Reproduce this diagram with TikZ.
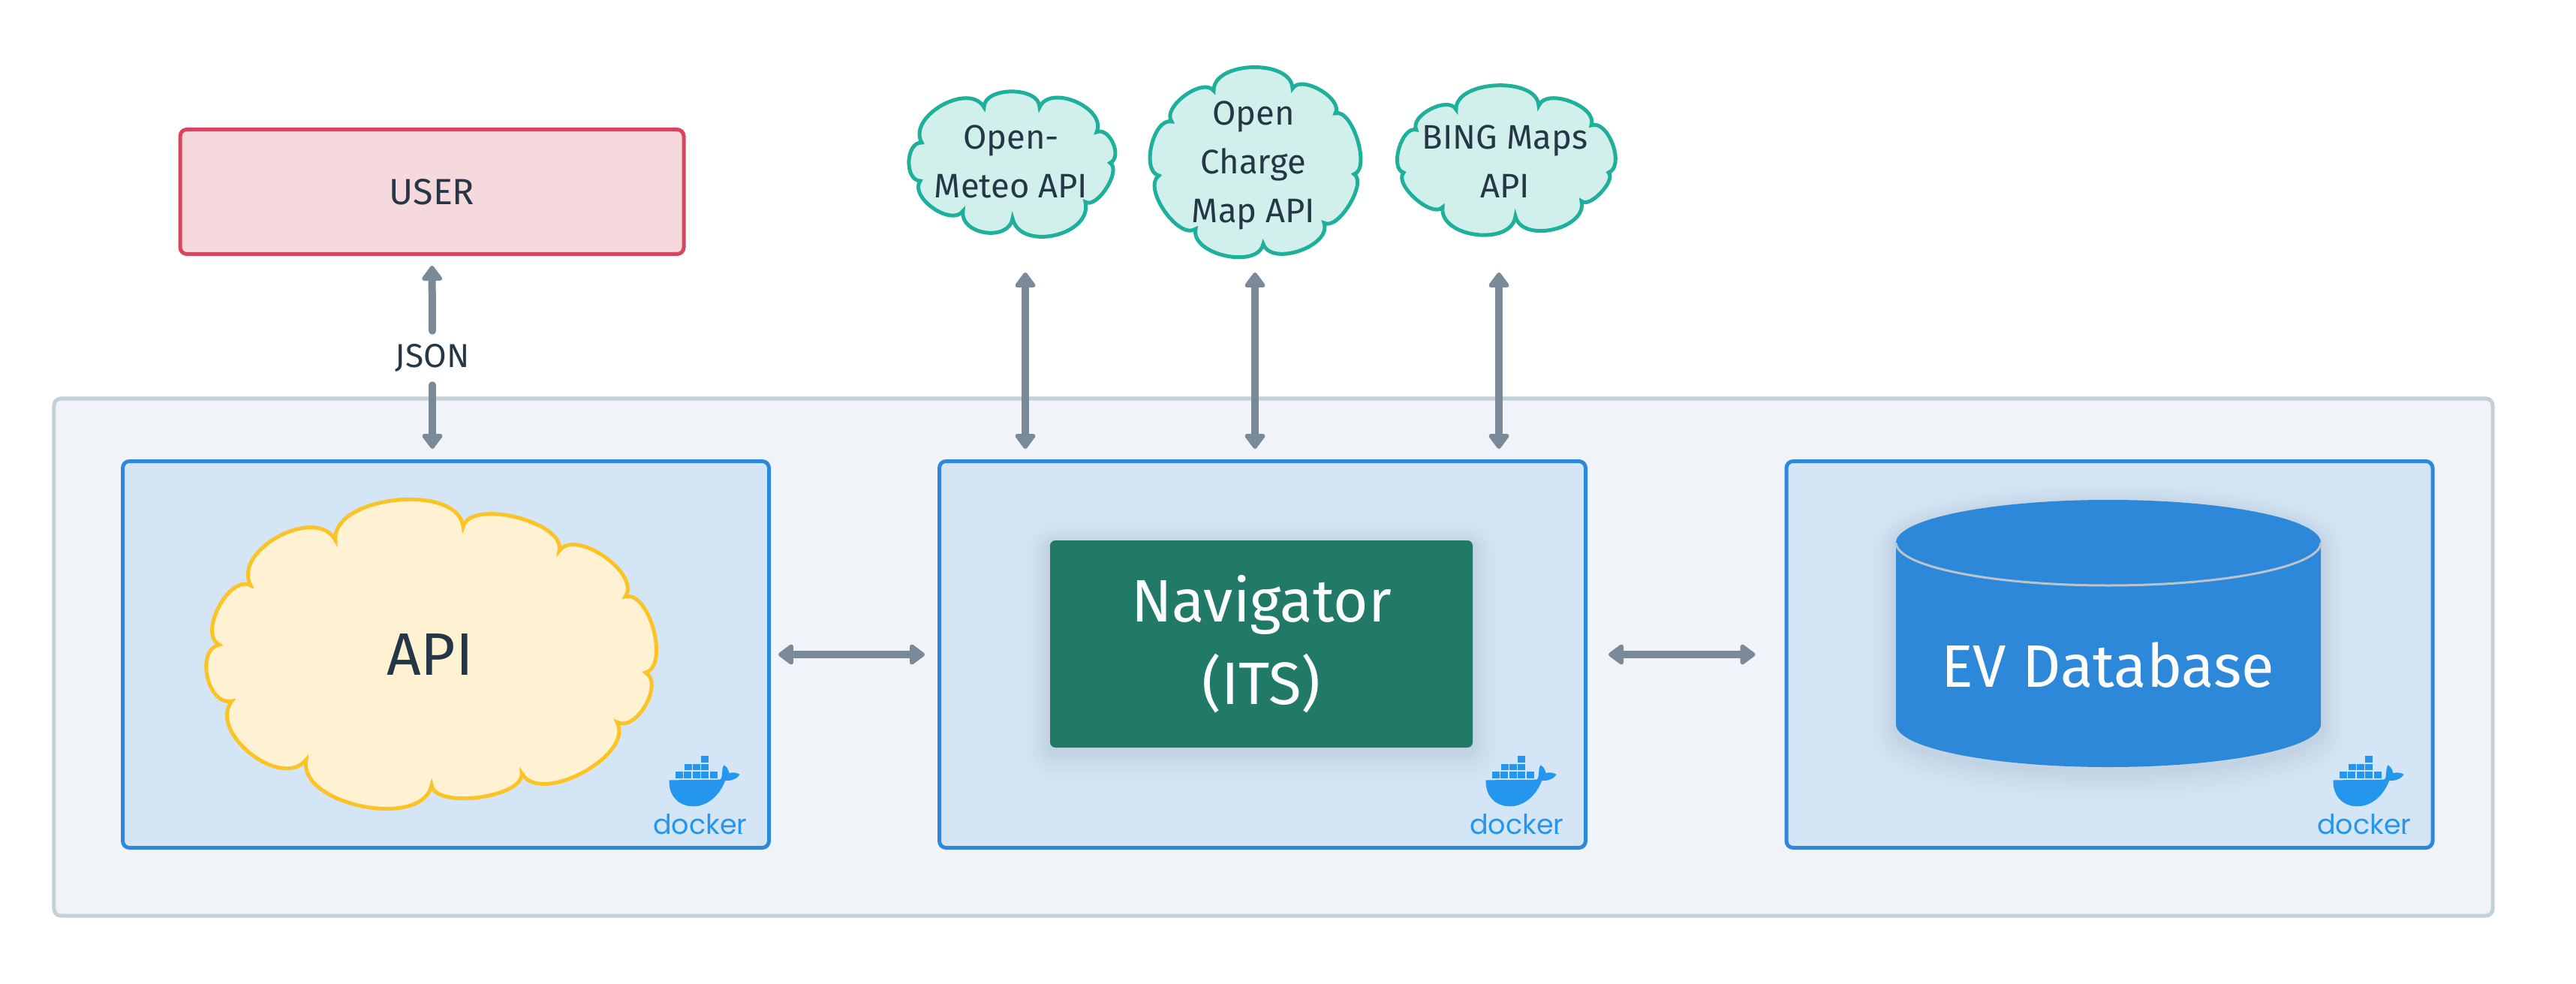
\documentclass[tikz,border=0pt]{standalone}
\usepackage{fontspec}
\setmainfont{Fira Sans}
\newfontfamily\dockerfont{Poppins}
\usetikzlibrary{arrows.meta,calc}

\definecolor{inkdark}{HTML}{253746}
\definecolor{arrowgray}{HTML}{7B8A99}
\definecolor{hostfill}{HTML}{F0F4F8}
\definecolor{hostline}{HTML}{C3D0DA}
\definecolor{boxfill}{HTML}{D4E5F5}
\definecolor{boxline}{HTML}{2E88DA}
\definecolor{userfill}{HTML}{F6D9DD}
\definecolor{userline}{HTML}{D7465F}
\definecolor{apifill}{HTML}{FEF2D3}
\definecolor{apiline}{HTML}{FCC326}
\definecolor{extfill}{HTML}{D1F0EC}
\definecolor{extline}{HTML}{1FB09C}
\definecolor{navgreen}{HTML}{217A68}
\definecolor{dockerblue}{HTML}{2496ED}

\tikzset{
    softshadow/.style={
        preaction={draw=black,opacity=.008,line width=.7cm,transform canvas={yshift=-.1cm}},
        preaction={draw=black,opacity=.008,line width=.58cm,transform canvas={yshift=-.1cm}},
        preaction={draw=black,opacity=.01,line width=.46cm,transform canvas={yshift=-.09cm}},
        preaction={draw=black,opacity=.012,line width=.34cm,transform canvas={yshift=-.08cm}},
        preaction={draw=black,opacity=.014,line width=.22cm,transform canvas={yshift=-.07cm}},
        preaction={draw=black,opacity=.016,line width=.1cm,transform canvas={yshift=-.06cm}}},
    hostbox/.style={draw=hostline, fill=hostfill, line width=.05cm, rounded corners=.09cm, minimum width=32.49cm, minimum height=6.89cm},
    dockerbox/.style={draw=boxline, fill=boxfill, line width=.05cm, rounded corners=.09cm, minimum width=8.61cm, minimum height=5.15cm},
    userbox/.style={draw=userline, fill=userfill, line width=.05cm, rounded corners=.09cm, minimum width=6.71cm, minimum height=1.66cm, text=inkdark, font=\fontsize{13.8pt}{18.5pt}\selectfont},
    smalltext/.style={font=\fontsize{12.9pt}{18.5pt}\selectfont, align=center},
    bigtext/.style={font=\fontsize{22.7pt}{31.3pt}\selectfont, align=center},
    cloudlabel/.style={smalltext, text=inkdark, inner sep=0pt},
    cloudext/.style={draw=extline, fill=extfill, line width=.05cm, line join=miter},
    cloudapi/.style={draw=apiline, fill=apifill, line width=.05cm, line join=miter},
    biarrow/.style={draw=arrowgray, line width=.1cm, {Triangle[length=.22cm,width=.31cm,round]}-{Triangle[length=.22cm,width=.31cm,round]}},
    lobe/.style={to path={.. controls ($(\tikztostart)!#1!90:(\tikztotarget)$) and ($(\tikztotarget)!#1!-90:(\tikztostart)$) .. (\tikztotarget)}},
    lobe/.default=.42
}

% whale and containers, measured from the lower right corner of a box
\newcommand{\dockerlogo}[2]{
    \begin{scope}[shift={(#1)}, x=.00333cm, y=-.00333cm, shift={(-645,-545)}]
        \foreach \bx/\by in {262/234,297/234,333/234,366/234,402/234,298/203,333/203,366/203,366/171}
            \fill[dockerblue] (\bx,\by) rectangle ++(30,26);
        \fill[dockerblue] (238,268) -- (440,266) .. controls (455,262) and (445,225) .. (457,208)
            .. controls (470,215) and (475,228) .. (478,240) .. controls (490,236) and (510,238) .. (520,245)
            .. controls (510,265) and (480,272) .. (462,270) .. controls (440,330) and (390,373) .. (335,373)
            .. controls (270,373) and (235,325) .. (238,268) -- cycle;
        \node[anchor=base, inner sep=0pt, text=dockerblue, font=\dockerfont\fontsize{10.4pt}{11pt}\selectfont] (#2) at (362,485) {docker};
        \fill[dockerblue] (528,482) circle (3);
    \end{scope}
}

\begin{document}
\begin{tikzpicture}
    \useasboundingbox (0,0) rectangle (34.32,-13.11);

    % boxes
    \node[hostbox] (host) at (16.965,-8.755) {};
    \node[dockerbox] (apibox) at (5.94,-8.72) {};
    \node[dockerbox] (navbox) at (16.82,-8.72) {};
    \node[dockerbox] (dbbox) at (28.105,-8.72) {};
    \node[userbox] (user) at (5.755,-2.555) {USER};

    % api cloud
    \draw[cloudapi] (4.47,-7.2) to[lobe=.35] (6.17,-7.02) to[lobe=.3] (7.45,-7.34) to[lobe=.35] (8.33,-7.95)
        to[lobe=.32] (8.6,-8.96) to[lobe=.38] (8.22,-9.62) to[lobe=.35] (6.95,-10.3) to[lobe=.27] (5.75,-10.46)
        to[lobe=.36] (4.08,-10.12) to[lobe=.42] (3.09,-9.34) to[lobe=.43] (2.92,-8.59) to[lobe=.36] (3.34,-7.8)
        to[lobe=.42] (4.47,-7.2) -- cycle;
    \node[bigtext, text=inkdark, inner sep=0pt] (apilabel) at (5.73,-8.72) {API};

    % external clouds
    \draw[cloudext] (13.11,-1.43) to[lobe=.38] (13.85,-1.43) to[lobe] (14.61,-1.76) to[lobe] (14.79,-2.17)
        to[lobe=.3] (14.46,-2.69) to[lobe=.46] (13.49,-2.91) to[lobe=.48] (12.83,-2.81) to[lobe=.38] (12.26,-2.41)
        to[lobe=.42] (12.28,-1.9) to[lobe] (13.11,-1.43) -- cycle;
    \node[cloudlabel] (meteo) at (13.47,-2.15) {Open-\\Meteo API};

    \draw[cloudext] (16.17,-1.21) to[lobe=.38] (17.22,-1.18) to[lobe=.34] (17.79,-1.51) to[lobe=.28] (18.04,-2.32)
        to[lobe=.28] (17.64,-2.97) to[lobe=.38] (16.83,-3.25) to[lobe=.38] (15.93,-3.05) to[lobe=.32] (15.44,-2.34)
        to[lobe=.34] (15.61,-1.62) to[lobe=.34] (16.17,-1.21) -- cycle;
    \node[cloudlabel] (charge) at (16.7,-2.2) {Open\\Charge\\Map API};

    \draw[cloudext] (19.4,-1.46) to[lobe=.36] (20.5,-1.41) to[lobe=.36] (21.2,-1.67) to[lobe=.36] (21.43,-2.3)
        to[lobe=.28] (21.07,-2.68) to[lobe=.42] (20.19,-2.88) to[lobe=.42] (19.22,-2.76) to[lobe=.3] (18.7,-2.3)
        to[lobe=.34] (18.87,-1.73) to[lobe=.36] (19.4,-1.46) -- cycle;
    \node[cloudlabel] (bing) at (20.05,-2.15) {BING Maps\\API};

    % inner blocks
    \node[softshadow, fill=navgreen, rounded corners=.07cm, minimum width=5.63cm, minimum height=2.76cm, text=white, bigtext] (nav) at (16.805,-8.58) {Navigator\\(ITS)};
    \fill[boxline, softshadow] (25.26,-7.23) arc[start angle=180, end angle=0, x radius=2.83, y radius=.57]
        -- (30.92,-9.65) arc[start angle=0, end angle=-180, x radius=2.83, y radius=.57] -- cycle;
    \draw[hostline!85!gray, line width=.03cm] (25.26,-7.23) arc[start angle=180, end angle=360, x radius=2.83, y radius=.57];
    \node[bigtext, text=white, inner sep=0pt] (evlabel) at (28.08,-8.86) {EV Database};

    % docker logos
    \dockerlogo{10.27,-11.315}{dockerapi}
    \dockerlogo{21.15,-11.315}{dockernav}
    \dockerlogo{32.44,-11.315}{dockerdb}

    % connectors
    \node[text=inkdark, font=\fontsize{12.6pt}{14pt}\selectfont, inner xsep=0pt, inner ysep=.17cm] (json) at (5.76,-4.77) {JSON};
    \draw[draw=arrowgray, line width=.1cm, line cap=round, {Triangle[length=.22cm,width=.31cm,round]}-, shorten <=.13cm] (user.south) -- (json.north);
    \draw[draw=arrowgray, line width=.1cm, line cap=round, -{Triangle[length=.22cm,width=.31cm,round]}, shorten >=.14cm] (json.south) -- (json.south |- apibox.north);

    \coordinate (meteoport) at (13.66,-3.63);
    \coordinate (chargeport) at (16.72,-3.63);
    \coordinate (bingport) at (19.97,-3.63);
    \draw[biarrow, shorten >=.14cm] (meteoport) -- (meteoport |- navbox.north);
    \draw[biarrow, shorten >=.14cm] (chargeport) -- (chargeport |- navbox.north);
    \draw[biarrow, shorten >=.14cm] (bingport) -- (bingport |- navbox.north);

    \draw[biarrow, shorten <=.10cm, shorten >=.17cm] (apibox.east) -- (navbox.west);
    \draw[biarrow, shorten <=.28cm, shorten >=.39cm] (navbox.east) -- (dbbox.west);
\end{tikzpicture}
\end{document}
